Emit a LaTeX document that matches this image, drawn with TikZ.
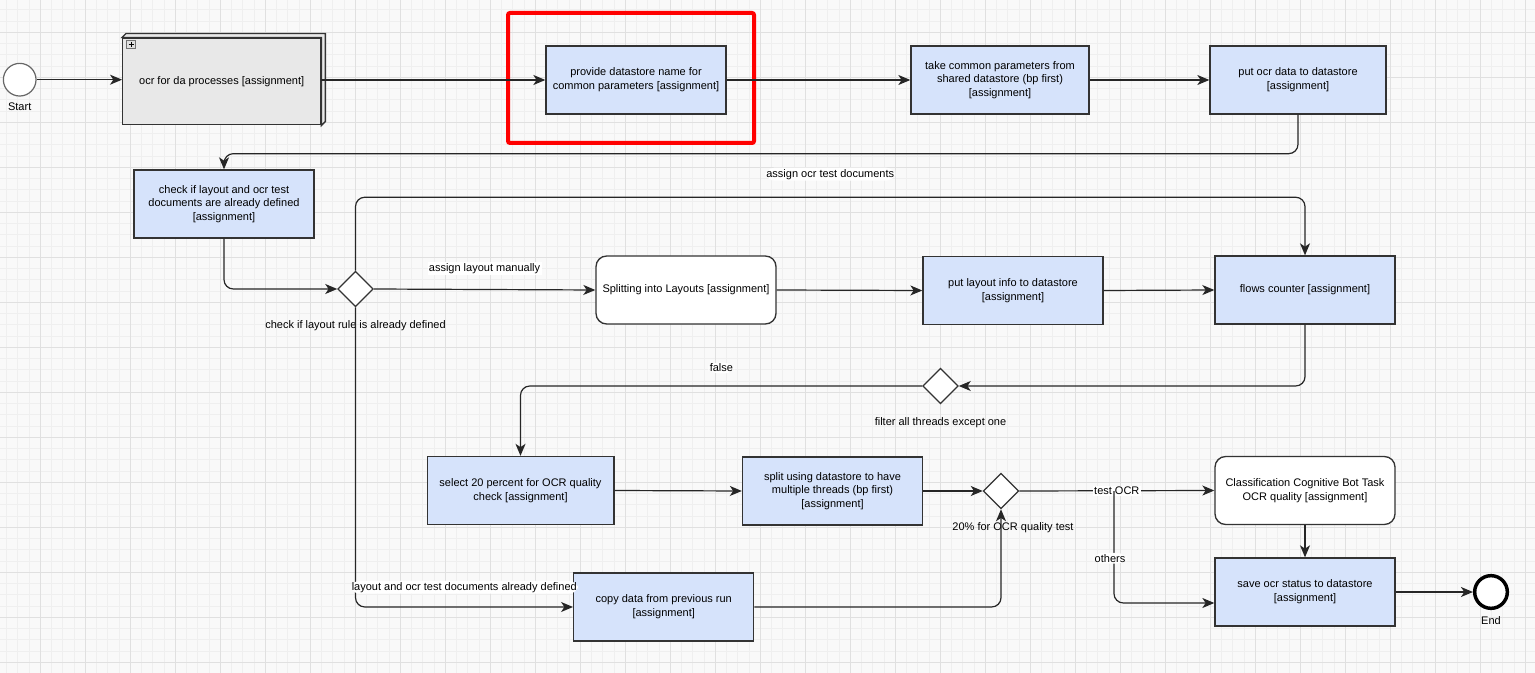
\documentclass[tikz,border=0pt]{standalone}
\usepackage{xcolor}
\usepackage{fontspec}
\setmainfont{Liberation Sans}
\usepackage{tikz}
\usetikzlibrary{positioning, arrows.meta, shapes.geometric}

\definecolor{bggray}{HTML}{F9F9F9}
\definecolor{minorline}{HTML}{EFEFEF}
\definecolor{majorline}{HTML}{E0E0E0}
\definecolor{taskblue}{HTML}{D6E3FB}
\definecolor{subgray}{HTML}{E8E8E8}
\definecolor{boxline}{HTML}{333333}
\definecolor{edgeline}{HTML}{262626}

\begin{document}
\begin{tikzpicture}[
    x=0.75pt, y=-0.75pt, % koordinat dalam piksel
    font=\fontsize{8.25}{10.3}\selectfont,
    task/.style={rectangle, draw=boxline, fill=taskblue, line width=1pt, align=center, minimum width=135pt, minimum height=51pt, inner sep=2pt},
    usertask/.style={task, fill=white, rounded corners=8pt},
    subtask/.style={task, fill=subgray, minimum width=148.5pt, minimum height=65pt},
    gateway/.style={diamond, draw=boxline, fill=white, line width=0.9pt, minimum width=26.5pt, minimum height=26.5pt, inner sep=0pt},
    startevent/.style={circle, draw=black!60, fill=white, line width=0.9pt, minimum size=24.5pt, inner sep=0pt},
    endevent/.style={circle, draw=black, fill=white, line width=2.6pt, minimum size=24.5pt, inner sep=0pt},
    flow/.style={draw=edgeline, line width=0.9pt, -{Stealth[length=9pt, width=7.5pt, inset=2.5pt]}},
    bentflow/.style={flow, rounded corners=7pt},
    edgelabel/.style={fill=white, inner sep=1pt},
    gatelabel/.style={label distance=6.5pt},
    minorgrid/.style={draw=minorline, line width=0.75pt},
    majorgrid/.style={draw=majorline, line width=0.75pt}
]

% Latar belakang dan grid
\useasboundingbox (0,0) rectangle (1535,673);
\fill[bggray] (0,0) rectangle (1535,673);
\foreach \i in {0,...,135} \draw[minorgrid] ({6.55+11.25*\i},0) -- ++(0,673);
\foreach \i in {0,...,58} \draw[minorgrid] (0,{9.8+11.25*\i}) -- ++(1535,0);
\foreach \i in {0,...,33} \draw[majorgrid] ({40.3+45*\i},0) -- ++(0,673);
\foreach \i in {0,...,14} \draw[majorgrid] (0,{32.3+45*\i}) -- ++(1535,0);

% Baris atas
\node[startevent, label={[label distance=1pt]below:Start}] (start) at (19.7,79.7) {};

\node[subtask] (ocr) at (221.7,81.5) {ocr for da processes [assignment]};
\draw[draw=boxline, fill=subgray, line width=1pt] (ocr.north west) -- ++(4,-4) -- ([shift={(4,-4)}]ocr.north east) -- ([shift={(4,-4)}]ocr.south east) -- (ocr.south east) -- (ocr.north east) -- cycle;
\draw[draw=black!55, fill=black!12, line width=0.5pt] ([shift={(4.5,2.7)}]ocr.north west) rectangle ++(9,8);
\draw[line width=0.6pt] ([shift={(6.5,6.7)}]ocr.north west) -- ++(5,0) ([shift={(9,4.2)}]ocr.north west) -- ++(0,5);

\node[task] (provide) at (636,80) {provide datastore name for\\common parameters [assignment]};
\node[draw=red, line width=3pt, rounded corners=1.5pt, minimum width=184.5pt, minimum height=97.5pt] (highlight) at (631,78) {};

\node[task, minimum width=133.5pt] (take) at (1000,80) {take common parameters from\\shared datastore (bp first)\\{[assignment]}};
\node[task, minimum width=132pt] (put) at (1298,80) {put ocr data to datastore\\{[assignment]}};

% Baris kedua
\node[task] (check) at (224,204) {check if layout and ocr test\\documents are already defined\\{[assignment]}};

\node[gateway, label={[gatelabel]below:check if layout rule is already defined}] (rulegate) at (355.5,289) {};

\node[usertask] (layouts) at (686,290) {Splitting into Layouts [assignment]};
\node[task] (layoutinfo) at (1013,290.5) {put layout info to datastore\\{[assignment]}};
\node[task] (flows) at (1305,290) {flows counter [assignment]};

% Baris ketiga
\node[gateway, label={[gatelabel]below:filter all threads except one}] (threadgate) at (940.5,386) {};

\node[task, minimum width=140pt] (select) at (520.5,490.5) {select 20 percent for OCR quality\\check [assignment]};
\node[task] (split) at (832.5,491) {split using datastore to have\\multiple threads (bp first)\\{[assignment]}};
\node[gateway, label={[gatelabel, xshift=9pt]below:20\% for OCR quality test}] (testgate) at (1001,491) {};
\node[usertask] (classify) at (1305,490.5) {Classification Cognitive Bot Task\\OCR quality [assignment]};

% Baris bawah
\node[task] (copy) at (663.7,607) {copy data from previous run\\{[assignment]}};
\node[task] (save) at (1305,592) {save ocr status to datastore\\{[assignment]}};
\node[endevent, label={[label distance=1pt]below:End}] (end) at (1491,592) {};
\coordinate (fork) at (1114,491);

% Relasi antar node
\draw[flow] (start.east) -- (start.east -| ocr.west);
\draw[flow] (ocr.east |- provide.west) -- (provide.west);
\draw[flow] (provide.east) -- (take.west);
\draw[flow] (take.east) -- (put.west);
\draw[bentflow] (put.south) -- ++(0,39) -| (check.north);
\draw[bentflow] (check.south) |- (rulegate.west);
\draw[flow] (rulegate.east) -- node[edgelabel, above=10.5pt] {assign layout manually} (layouts.west);
\draw[bentflow] (rulegate.north) -- ++(0,-73.5) -| node[edgelabel, pos=0.25, above=12pt] {assign ocr test documents} (flows.north);
\draw[bentflow] (rulegate.south) |- node[edgelabel, pos=0.75, above=9.5pt] {layout and ocr test documents already defined} (copy.west);
\draw[flow] (layouts.east) -- (layoutinfo.west);
\draw[flow] (layoutinfo.east) -- (flows.west);
\draw[bentflow] (flows.south) |- (threadgate.east);
\draw[bentflow] (threadgate.west) -| node[edgelabel, pos=0.25, above=9pt] {false} (select.north);
\draw[flow] (select.east) -- (split.west);
\draw[flow] (split.east) -- (testgate.west);
\draw[bentflow] (copy.east) -| (testgate.south);
\draw[flow] (testgate.east) -- node[edgelabel] {test OCR} (classify.west);
\draw[bentflow] (fork) |- node[edgelabel, pos=0.3, xshift=-3pt] {others} ([yshift=-8.25pt]save.west);
\draw[flow] (classify.south) -- (save.north);
\draw[flow] (save.east) -- (end.west);

\end{tikzpicture}
\end{document}
